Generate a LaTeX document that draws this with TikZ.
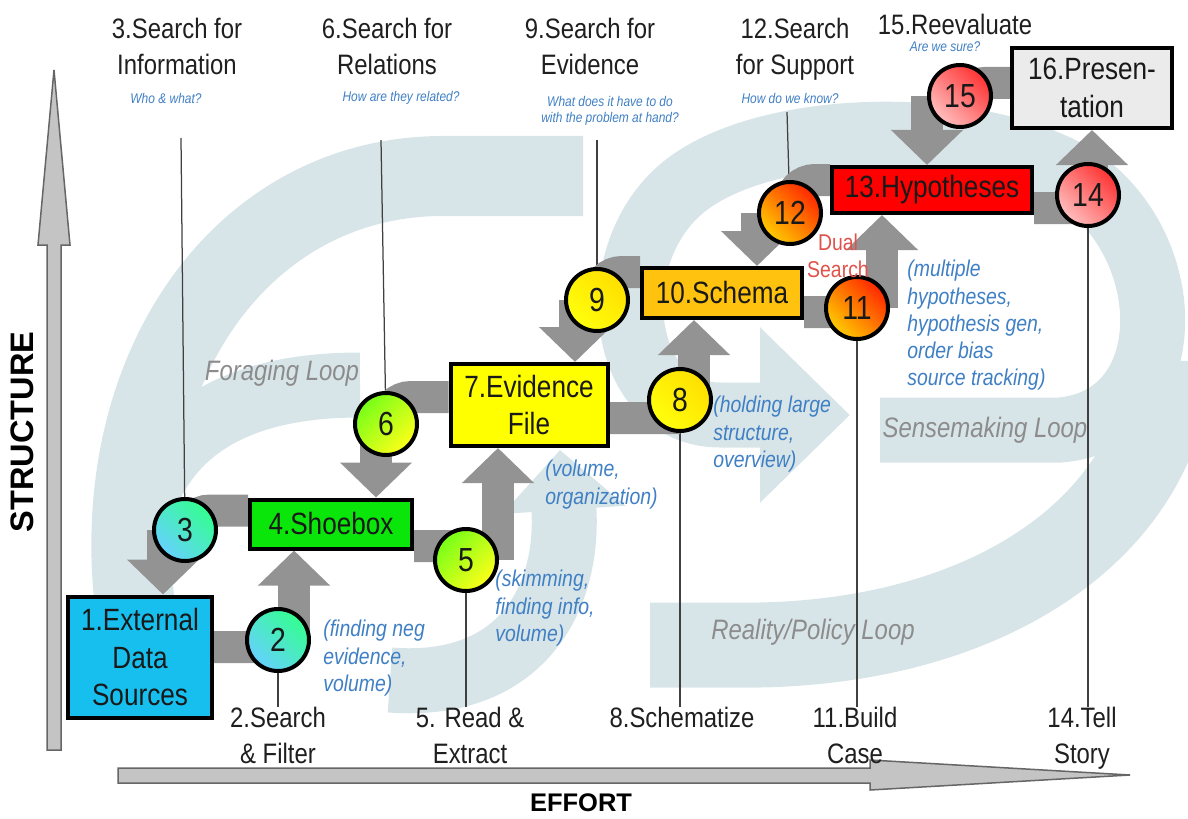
\documentclass[tikz,border=0pt]{standalone}
\usepackage{fontspec}
\setmainfont{Liberation Sans}[FakeStretch=0.85]
\newfontfamily\axisfont{Liberation Sans}
\usepackage{xcolor}
\usetikzlibrary{arrows.meta}
\definecolor{linkgray}{HTML}{939393}
\definecolor{loopblue}{HTML}{D8E5E8}
\definecolor{noteblue}{HTML}{3F7FC4}
\definecolor{looptext}{HTML}{8C8C8C}
\definecolor{dualred}{HTML}{E0524A}
\definecolor{axisgray}{HTML}{C4C4C4}
\definecolor{extcyan}{HTML}{17BFEF}
\definecolor{shoegreen}{HTML}{0AE60A}
\definecolor{evidyellow}{HTML}{FFFF00}
\definecolor{schemagold}{HTML}{FFC20E}
\definecolor{hypred}{HTML}{FF0000}
\definecolor{presgray}{HTML}{EBEBEB}
\pgfdeclarelayer{loops}
\pgfdeclarelayer{links}
\pgfsetlayers{loops,links,main}
\tikzset{
    data-box/.style = {draw=black, line width=0.8mm, rectangle, align=center, inner sep=0pt, text=black!90, font=\fontsize{17.5}{21.5}\selectfont},
    step-circle/.style = {circle, draw=black, line width=0.8mm, minimum size=12.4mm, inner sep=0pt, text=black!90, font=\fontsize{19}{22}\selectfont},
    cyan-green/.style = {top color=green!55!cyan!80, bottom color=cyan!70!blue!60, shading angle=-45},
    green-yellow/.style = {top color=green!60!yellow!90, bottom color=yellow!90, shading angle=45},
    plain-yellow/.style = {top color=orange!25!yellow, bottom color=yellow!95, shading angle=-45},
    orange-red/.style = {top color=red!70!orange, bottom color=orange!40!yellow, shading angle=-45},
    soft-red/.style = {top color=red!80!white, bottom color=red!25!white, shading angle=-45},
    step-title/.style = {align=center, anchor=north, inner sep=0pt, text=black!88, font=\fontsize{16}{20.5}\selectfont},
    question/.style = {align=center, inner sep=0pt, text=noteblue, font=\fontsize{8}{9.5}\selectfont\itshape},
    note/.style = {align=left, anchor=north west, inner sep=0pt, text=noteblue, font=\fontsize{13}{15.5}\selectfont\itshape},
    loop-label/.style = {text=looptext, font=\fontsize{16}{20}\selectfont\itshape},
    axis-label/.style = {text=black, font=\axisfont\bfseries\fontsize{18.5}{20}\selectfont},
    axis-arrow/.style = {fill=axisgray, draw=black!60, line width=0.3mm},
    link/.style = {draw=linkgray, line width=6.4mm},
    flow-arrow/.style = {link, -{Triangle[width=14mm,length=7mm]}},
    pin-line/.style = {draw=black!75, line width=0.25mm},
    loop-band/.style = {draw=loopblue, line width=13mm},
}

\begin{document}
\begin{tikzpicture}[x=0.2mm,y=-0.2mm]
\useasboundingbox (0,0) rectangle (1188,818);

\begin{pgfonlayer}{loops}
\draw[loop-band, line width=16mm] (140,640) .. controls (95,390) and (230,178) .. (440,176) -- (583,176);
\draw[loop-band] (360,385) .. controls (190,385) and (120,470) .. (130,620);
\draw[loop-band, -{Triangle[width=24mm,length=12mm]}] (390,680) .. controls (520,690) and (570,600) .. (560,450);
\draw[loop-band, -{Triangle[width=34mm,length=18mm]}] (880,430) -- (1060,430) .. controls (1180,420) and (1180,250) .. (1080,180) .. controls (980,115) and (760,120) .. (680,190) .. controls (600,260) and (620,415) .. (720,415) -- (850,415);
\draw[loop-band, line width=17mm] (650,645) -- (760,645) .. controls (1000,640) and (1160,520) .. (1170,360);
\end{pgfonlayer}

\draw[axis-arrow] (47,750) -- (47,245) -- (38,245) -- (54,70) -- (70,245) -- (61,245) -- (61,750) -- cycle;
\draw[axis-arrow] (118,768) -- (870,768) -- (870,760) -- (1130,775) -- (870,790) -- (870,783) -- (118,783) -- cycle;
\node[axis-label, rotate=90] (structure) at (22,432) {STRUCTURE};
\node[axis-label, font=\axisfont\bfseries\fontsize{14.5}{18}\selectfont] (effort) at (581,803) {EFFORT};

\node[data-box, fill=extcyan, minimum width=28.8mm, minimum height=24.2mm] (ext) at (140,657) {1.External\\Data\\Sources};
\node[data-box, fill=shoegreen, minimum width=32.4mm, minimum height=9.8mm] (shoe) at (331,524) {4.Shoebox};
\node[data-box, fill=evidyellow, minimum width=31.4mm, minimum height=16.4mm] (evid) at (529,405) {7.Evidence\\File};
\node[data-box, fill=schemagold, minimum width=32mm, minimum height=10mm] (schema) at (722,293) {10.Schema};
\node[data-box, fill=hypred, minimum width=40mm, minimum height=9.2mm] (hyp) at (932,190) {13.Hypotheses};
\node[data-box, fill=presgray, minimum width=32mm, minimum height=16mm] (pres) at (1092,88) {16.Presen-\\tation};

\node[step-circle, cyan-green] (c2) at (278,640) {2};
\node[step-circle, cyan-green] (c3) at (185,530) {3};
\node[step-circle, green-yellow] (c5) at (466,560) {5};
\node[step-circle, green-yellow] (c6) at (386,424) {6};
\node[step-circle, plain-yellow] (c8) at (680,400) {8};
\node[step-circle, plain-yellow] (c9) at (597,300) {9};
\node[step-circle, orange-red] (c11) at (857,308) {11};
\node[step-circle, orange-red] (c12) at (790,213) {12};
\node[step-circle, soft-red] (c14) at (1088,195) {14};
\node[step-circle, soft-red] (c15) at (960,96) {15};

\node[step-title] (t3) at (177,18) {3.Search for\\Information};
\node[step-title] (t6) at (387,18) {6.Search for\\Relations};
\node[step-title] (t9) at (590,18) {9.Search for\\Evidence};
\node[step-title] (t12) at (795,18) {12.Search\\for Support};
\node[step-title] (t15) at (955,14) {15.Reevaluate};

\node[question] (q3) at (166,98) {Who \& what?};
\node[question] (q6) at (401,98) {How are they related?};
\node[question] (q9) at (610,111) {What does it have to do\\with the problem at hand?};
\node[question] (q12) at (790,98) {How do we know?};
\node[question] (q15) at (945,47) {Are we sure?};

\node[step-title] (b2) at (278,707) {2.Search\\\& Filter};
\node[step-title] (b5) at (470,707) {5. Read \&\\Extract};
\node[step-title] (b8) at (682,707) {8.Schematize};
\node[step-title] (b11) at (855,707) {11.Build\\Case};
\node[step-title] (b14) at (1082,707) {14.Tell\\Story};

\node[note] (n2) at (323,620) {(finding neg\\evidence,\\volume)};
\node[note] (n5) at (495,570) {(skimming,\\finding info,\\volume)};
\node[note] (n7) at (545,460) {(volume,\\organization)};
\node[note] (n8) at (713,396) {(holding large\\structure,\\overview)};
\node[note] (n11) at (907,260) {(multiple\\hypotheses,\\hypothesis gen,\\order bias\\source tracking)};
\node[align=center, inner sep=0pt, text=dualred, font=\fontsize{13}{15}\selectfont] (dual) at (838,256) {Dual\\Search};

\node[loop-label] (forage) at (282,373) {Foraging Loop};
\node[loop-label] (sense) at (985,430) {Sensemaking Loop};
\node[loop-label] (reality) at (813,632) {Reality/Policy Loop};

\begin{pgfonlayer}{links}
\coordinate (p3) at (181,138);
\coordinate (p6) at (381,140);
\coordinate (p9) at (597,140);
\coordinate (p12) at (787,112);
\draw[pin-line] (p3) -- (c3);
\draw[pin-line] (p6) -- (c6);
\draw[pin-line] (p9) -- (c9);
\draw[pin-line] (p12) -- (c12);
\draw[pin-line] (c2.south) -- (c2 |- b2.north);
\draw[pin-line] (c5.south) -- (c5 |- b5.north);
\draw[pin-line] (c8.south) -- (c8 |- b8.north);
\draw[pin-line] (c11.south) -- (c11 |- b11.north);
\draw[pin-line] (c14.south) -- (c14 |- b14.north);

\draw[link] ([yshift=2mm]ext.east) -- ([yshift=-1.4mm]c2.center);
\draw[link] ([yshift=-4.4mm]shoe.east) -- ([yshift=2.8mm]c5.center);
\draw[link] ([yshift=-2.6mm]evid.east) -- ([yshift=-3.6mm]c8.center);
\draw[link] ([yshift=-3.8mm]schema.east) -- ([yshift=-0.8mm]c11.center);
\draw[link] ([yshift=-3.6mm]hyp.east) -- ([yshift=-2.6mm]c14.center);

\draw[link, rounded corners=5mm] ([yshift=2.7mm]shoe.west) -| (c3.center);
\draw[link, rounded corners=5mm] ([yshift=1.6mm]evid.west) -| (c6.center);
\draw[link, rounded corners=5mm] ([yshift=4.2mm]schema.west) -| (c9.center);
\draw[link, rounded corners=5mm] ([yshift=2mm]hyp.west) -| (c12.center);
\draw[link, rounded corners=5mm] ([yshift=1mm]pres.west) -| (c15.center);

\coordinate (u2) at ([xshift=3.2mm]c2.center);
\coordinate (u5) at ([xshift=6.4mm]c5.center);
\coordinate (u8) at ([xshift=2.8mm]c8.center);
\coordinate (u11) at ([xshift=5mm]c11.center);
\coordinate (u14) at ([xshift=0.8mm]c14.center);
\draw[flow-arrow] (u2) -- (u2 |- shoe.south);
\draw[flow-arrow] (u5) -- (u5 |- evid.south);
\draw[flow-arrow] (u8) -- (u8 |- schema.south);
\draw[flow-arrow] (u11) -- (u11 |- hyp.south);
\draw[flow-arrow] (u14) -- (u14 |- pres.south);

\coordinate (d3) at ([xshift=-4.4mm]c3.center);
\coordinate (d6) at ([xshift=-2mm]c6.center);
\coordinate (d9) at ([xshift=-4.4mm]c9.center);
\coordinate (d12) at ([xshift=-6.6mm]c12.center);
\coordinate (d15) at ([xshift=-6.6mm]c15.center);
\draw[flow-arrow] (d3) -- (d3 |- ext.north);
\draw[flow-arrow] (d6) -- (d6 |- shoe.north);
\draw[flow-arrow] (d9) -- (d9 |- evid.north);
\draw[flow-arrow] (d12) -- (d12 |- schema.north);
\draw[flow-arrow] (d15) -- (d15 |- hyp.north);
\end{pgfonlayer}
\end{tikzpicture}
\end{document}
